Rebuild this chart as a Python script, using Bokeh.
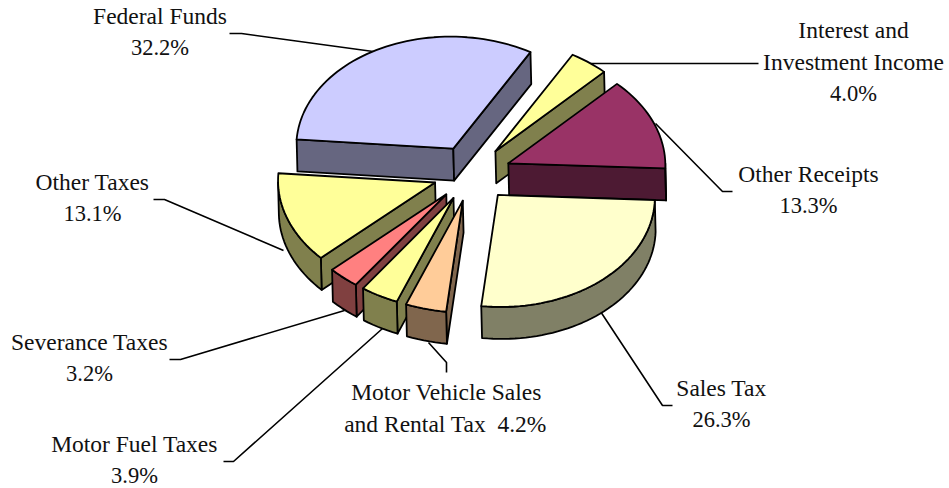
import math
from bokeh.plotting import figure
from bokeh.models import Range1d, ColumnDataSource
from bokeh.core.properties import value
from bokeh.embed import file_html
from bokeh.resources import INLINE

# ---- data -------------------------------------------------------------
categories = ["Sales Tax", "Motor Vehicle Sales and Rental Tax", "Motor Fuel Taxes",
              "Severance Taxes", "Other Taxes", "Federal Funds",
              "Interest and Investment Income", "Other Receipts"]
shares = [26.3, 4.2, 3.9, 3.2, 13.1, 32.2, 4.0, 13.3]

# ---- style / layout (page pixels) --------------------------------------
top_colors = ["#FFFFCC", "#FFCC99", "#FFFF99", "#FF8080", "#FFFF99", "#CCCCFF", "#FFFF99", "#993366"]
side_colors = ["#808066", "#80664D", "#80804D", "#804040", "#80804D", "#666680", "#80804D", "#4D1A33"]
CX, CY, RX, RY, DEPTH, EXPLODE, START, SKEW = 471.5, 173, 157, 112, 32, 0.25, 2.6, 0.025
TEXT_DY = -8

label_lines = [
    [("Sales Tax", 721, 395), ("{v}", 721, 427)],
    [("Motor Vehicle Sales", 446, 399), ("and Rental Tax\u00a0 {v}", 445, 431)],
    [("Motor Fuel Taxes", 134, 451), ("{v}", 134, 483)],
    [("Severance Taxes", 89, 349), ("{v}", 89, 381)],
    [("Other Taxes", 92, 189), ("{v}", 92, 221)],
    [("Federal Funds", 159.5, 23), ("{v}", 159.5, 55)],
    [("Interest and", 853, 37), ("Investment Income", 853, 69), ("{v}", 853, 101)],
    [("Other Receipts", 808, 181), ("{v}", 808, 213)],
]
leader_x = [[600, 662, 672], [428, 446, 446], [382, 233, 223], [344, 180, 169],
            [283, 164, 153], [380, 241, 229], [590, 758], [655, 722, 732]]
leader_y = [[311, 405, 405], [342, 362, 372], [328, 461, 461], [310, 359, 359],
            [250, 199, 199], [52, 33, 33], [63, 63], [123, 191, 191]]


def rim(ax, ay, t0, t1, dy=0.0):
    n = max(2, int(abs(t1 - t0) / 2) + 1)
    ts = [math.radians(t0 + (t1 - t0) * i / (n - 1)) for i in range(n)]
    return [ax + RX * math.cos(t) for t in ts], [ay + dy + RY * math.sin(t) for t in ts]


def interior_above(dx, dy, mx, my):
    """True if the wedge interior lies above the edge ray, so its cut face shows."""
    if abs(dx) < 1e-9:
        return False
    return my < dy / dx * mx


total = sum(shares)
slices = []
cum = START
for share, top, side in zip(shares, top_colors, side_colors):
    a = cum
    b = cum + share / total * 360.0
    cum = b
    slices.append((a, b, top, side))

order = sorted(range(len(slices)),
               key=lambda i: math.sin(math.radians((slices[i][0] + slices[i][1]) / 2)))

xs, ys, fills = [], [], []
for i in order:
    a, b, top, side = slices[i]
    mid = math.radians((a + b) / 2)
    ax = CX + EXPLODE * RX * math.cos(mid)
    ay = CY + EXPLODE * RY * math.sin(mid)
    mx, my = RX * math.cos(mid), RY * math.sin(mid)
    # cut faces
    for t in (a, b):
        ex = RX * math.cos(math.radians(t))
        ey = RY * math.sin(math.radians(t))
        if interior_above(ex, ey, mx, my):
            xs.append([ax, ax + ex, ax + ex, ax])
            ys.append([ay, ay + ey, ay + ey + DEPTH, ay + DEPTH])
            fills.append(side)
    # outer wall, only the part that faces the viewer
    for lo, hi in ((0, 180), (360, 540)):
        s, e = max(a, lo), min(b, hi)
        if e > s:
            tx, ty = rim(ax, ay, s, e)
            bx, by = rim(ax, ay, s, e, DEPTH)
            xs.append(tx + bx[::-1])
            ys.append(ty + by[::-1])
            fills.append(side)
    # top
    tx, ty = rim(ax, ay, a, b)
    xs.append([ax] + tx)
    ys.append([ay] + ty)
    fills.append(top)

# slight slant of the drawing: lower parts lean right, upper parts lean left
xs = [[x + SKEW * (y - CY) for x, y in zip(px, py)] for px, py in zip(xs, ys)]

p = figure(width=949, height=488, x_range=Range1d(0, 949), y_range=Range1d(488, 0),
           toolbar_location=None, output_backend="svg", min_border=0)
p.axis.visible = False
p.grid.visible = False
p.outline_line_color = None

p.multi_line(leader_x, leader_y, line_color="black", line_width=1.6)
p.patches(xs="xs", ys="ys", fill_color="fills", line_color="black", line_width=1.8,
          line_join="round", source=ColumnDataSource(dict(xs=xs, ys=ys, fills=fills)))

nx, ny, nt, vx, vy, vt = [], [], [], [], [], []
for share, lines in zip(shares, label_lines):
    for text, x, y in lines:
        s = text.replace("{v}", f"{share:.1f}%")
        if text == "{v}":
            vx.append(x); vy.append(y + TEXT_DY); vt.append(s)
        else:
            nx.append(x); ny.append(y + TEXT_DY); nt.append(s)
p.text(nx, ny, text=nt, text_font=value("Liberation Serif"), text_font_size="23.5px",
       text_color="#111111", text_align="center", text_baseline="alphabetic")
p.text(vx, vy, text=vt, text_font=value("Liberation Serif"), text_font_size="22.5px",
       text_color="#111111", text_align="center", text_baseline="alphabetic")

open("out.html", "w").write(file_html(p, INLINE))
